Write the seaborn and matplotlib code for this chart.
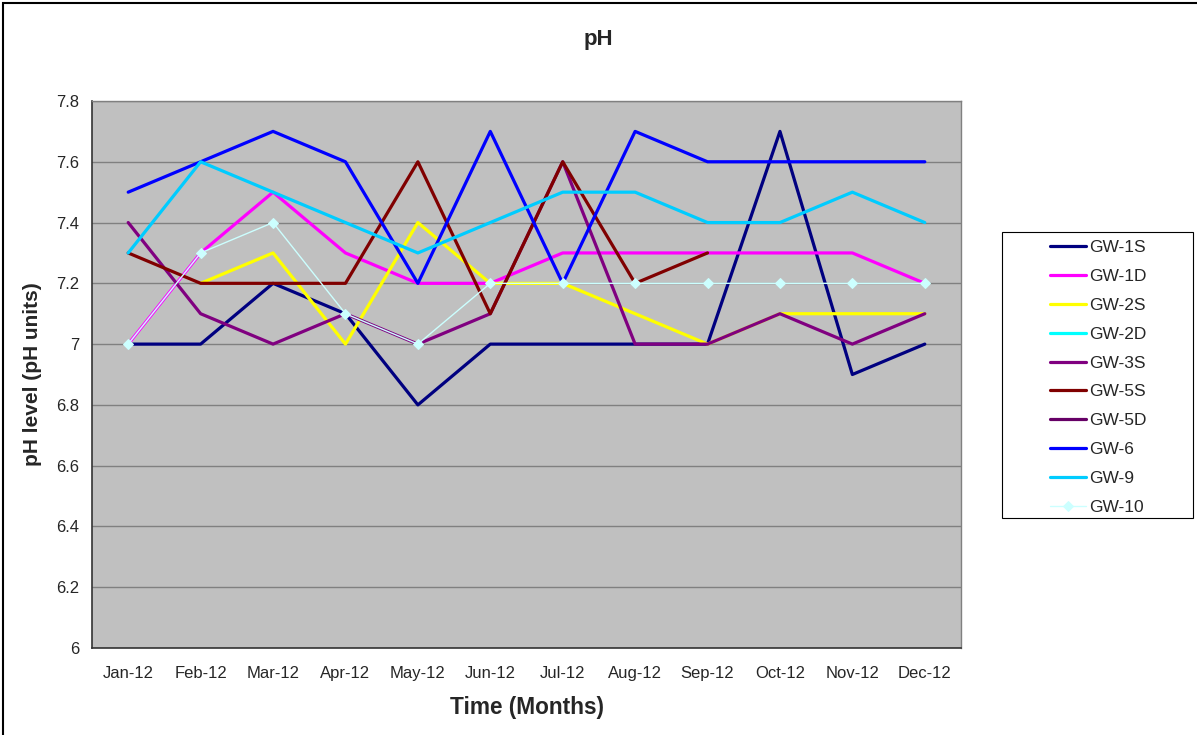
import numpy as np
import pandas as pd
import matplotlib
matplotlib.use("Agg")
import matplotlib.pyplot as plt
import seaborn as sns
from matplotlib.patches import Rectangle

months = ["Jan-12", "Feb-12", "Mar-12", "Apr-12", "May-12", "Jun-12",
          "Jul-12", "Aug-12", "Sep-12", "Oct-12", "Nov-12", "Dec-12"]
nan = np.nan

gw_1s = [7.0, 7.0, 7.2, 7.1, 6.8, 7.0, 7.0, 7.0, 7.0, 7.7, 6.9, 7.0]
gw_1d = [7.0, 7.3, 7.5, 7.3, 7.2, 7.2, 7.3, 7.3, 7.3, 7.3, 7.3, 7.2]
gw_2s = [nan, 7.2, 7.3, 7.0, 7.4, 7.2, 7.2, 7.1, 7.0, 7.1, 7.1, 7.1]
gw_2d = [nan] * 12
gw_3s = [7.4, 7.1, 7.0, 7.1, 7.0, 7.1, 7.6, 7.0, 7.0, 7.1, 7.0, 7.1]
gw_5s = [7.3, 7.2, 7.2, 7.2, 7.6, 7.1, 7.6, 7.2, 7.3, nan, nan, nan]
gw_5d = [nan] * 12
gw_6 = [7.5, 7.6, 7.7, 7.6, 7.2, 7.7, 7.2, 7.7, 7.6, 7.6, 7.6, 7.6]
gw_9 = [7.3, 7.6, 7.5, 7.4, 7.3, 7.4, 7.5, 7.5, 7.4, 7.4, 7.5, 7.4]
gw_10 = [7.0, 7.3, 7.4, 7.1, 7.0, 7.2, 7.2, 7.2, 7.2, 7.2, 7.2, 7.2]

series = {
    "GW-1S": gw_1s, "GW-1D": gw_1d, "GW-2S": gw_2s, "GW-2D": gw_2d,
    "GW-3S": gw_3s, "GW-5S": gw_5s, "GW-5D": gw_5d, "GW-6": gw_6,
    "GW-9": gw_9, "GW-10": gw_10,
}
colors = {
    "GW-1S": "#000080", "GW-1D": "#FF00FF", "GW-2S": "#FFFF00", "GW-2D": "#00FFFF",
    "GW-3S": "#800080", "GW-5S": "#800000", "GW-5D": "#660066", "GW-6": "#0000FF",
    "GW-9": "#00CCFF", "GW-10": "#CCFFFF",
}

sns.set_style("white")
plt.rcParams["font.family"] = ["Liberation Sans", "DejaVu Sans"]

fig = plt.figure(figsize=(11.97, 7.35), dpi=100)
W, H = 1197, 735
ax = fig.add_axes([92 / W, 1 - 648 / H, (961 - 92) / W, (648 - 101) / H])
ax.set_facecolor("#C0C0C0")

x = np.arange(len(months))
for name, vals in series.items():
    df = pd.DataFrame({"x": x, "y": vals})
    if name == "GW-10":
        sns.lineplot(data=df, x="x", y="y", ax=ax, color=colors[name], lw=1.0,
                     marker="D", markersize=5.5, markeredgecolor=colors[name],
                     label=name, sort=False)
    else:
        sns.lineplot(data=df, x="x", y="y", ax=ax, color=colors[name], lw=2.3,
                     label=name, sort=False)

ax.set_xlim(-0.5, 11.5)
ax.set_ylim(6, 7.8)
ax.set_yticks(np.arange(6, 7.81, 0.2))
ax.set_yticklabels(["6", "6.2", "6.4", "6.6", "6.8", "7", "7.2", "7.4", "7.6", "7.8"])
ax.set_xticks(x)
ax.set_xticklabels(months)
ax.set_xticks(np.arange(-0.5, 11.6, 1), minor=True)
ax.tick_params(axis="x", which="major", length=0, labelsize=12, pad=13)
ax.tick_params(axis="x", which="minor", length=5, width=0.8, color="black", direction="out")
ax.tick_params(axis="y", length=5, width=0.8, color="black", direction="out", labelsize=12, pad=4)
ax.grid(axis="y", color="#808080", lw=1)
ax.grid(axis="x", visible=False)
ax.set_axisbelow(True)

for s in ["top", "right"]:
    ax.spines[s].set_color("#808080")
    ax.spines[s].set_linewidth(1)
for s in ["left", "bottom"]:
    ax.spines[s].set_color("#333333")
    ax.spines[s].set_linewidth(1.2)

ax.set_xlabel("Time (Months)", fontsize=16.3, fontweight="bold", labelpad=11)
ax.set_ylabel("pH level (pH units)", fontsize=15, fontweight="bold", labelpad=10)
fig.text(0.5, 1 - 40 / H, "pH", ha="center", va="center", fontsize=16, fontweight="bold")

ax.legend(loc="upper left", bbox_to_anchor=(1050 / W, 1 - 240 / H),
          bbox_transform=fig.transFigure, frameon=False,
          fontsize=12.5, labelspacing=0.79, handlelength=2.1,
          borderpad=0, handletextpad=0.15, borderaxespad=0)

fig.patches.append(Rectangle((1002 / W, 1 - 518 / H), 191 / W, 286 / H,
                             transform=fig.transFigure, fill=False,
                             edgecolor="black", lw=0.8))
fig.patches.append(Rectangle((3 / W, -0.01), 1.0, 1 - 3 / H + 0.01,
                             transform=fig.transFigure, fill=False,
                             edgecolor="black", lw=1.5))

fig.savefig("out.png", dpi=100, facecolor="white")
